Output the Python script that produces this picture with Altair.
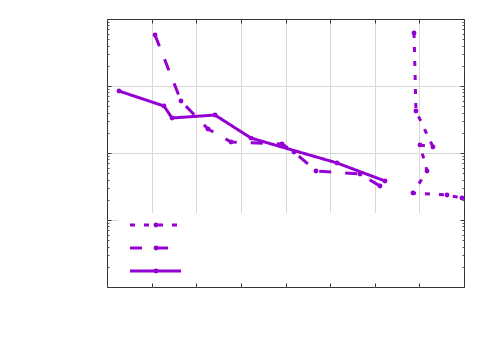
import altair as alt
import pandas as pd

# ---- data (x linear 0..8, y log 1..1e4) ----
s1_x = [6.880, 6.924, 7.305, 7.014, 7.171, 6.857, 7.619, 7.955]
s1_y = [6180, 423, 123, 132, 53.9, 25.3, 23.6, 21.3]

s2_x = [1.076, 1.658, 2.263, 2.779, 3.922, 4.190, 4.683, 5.669, 6.118]
s2_y = [5768, 597, 228, 146, 136, 103.5, 53.9, 48.6, 32.2]

s3_x = [0.269, 1.277, 1.457, 2.420, 3.227, 5.154, 6.230]
s3_y = [841, 503, 333, 369, 167, 71, 38.2]

series_names = ["dotted", "dashed", "solid"]
x_major = [1, 2, 3, 4, 5, 6, 7]
y_major = [10, 100, 1000]
y_major_ticks = [1, 10, 100, 1000, 10000]
y_minor = [k * 10 ** d for d in range(4) for k in range(2, 10)]

rows = []
for name, xs, ys in zip(series_names, [s1_x, s2_x, s3_x], [s1_y, s2_y, s3_y]):
    for i, (xv, yv) in enumerate(zip(xs, ys)):
        rows.append({"x": xv, "y": yv, "series": name, "order": i})
df = pd.DataFrame(rows)

COLOR = "#9400D3"
W, H = 357, 268
dash_range = [[5, 9], [12, 14], [1, 0]]

xs = alt.Scale(domain=[0, 8], nice=False, zero=False)
ys = alt.Scale(type="log", domain=[1, 10000], nice=False)


def ax(**kw):
    base = dict(title=None, labels=False, domain=False)
    base.update(kw)
    return alt.Axis(**base)


base = alt.Chart(df)

grid_layer = base.mark_point(opacity=0).encode(
    x=alt.X("x:Q", scale=xs, axis=ax(grid=True, ticks=False, values=x_major,
                                     gridColor="#d8d8d8", gridWidth=1, zindex=0)),
    y=alt.Y("y:Q", scale=ys, axis=ax(grid=True, ticks=False, values=y_major,
                                     gridColor="#d8d8d8", gridWidth=1, zindex=0)),
)

box = alt.Chart(pd.DataFrame({"a": [0]})).mark_rect(color="white").encode(
    x=alt.value(11), x2=alt.value(356.5), y=alt.value(194), y2=alt.value(267.5)
)

lines = base.mark_line(color=COLOR, strokeWidth=3, strokeJoin="round").encode(
    x=alt.X("x:Q", scale=xs, axis=ax(grid=False, orient="top", offset=-H,
                                     values=x_major, tickSize=4, tickColor="#333",
                                     zindex=1)),
    y=alt.Y("y:Q", scale=ys, axis=ax(grid=False, orient="right", offset=-W,
                                     values=y_major_ticks, tickSize=4, tickColor="#333",
                                     zindex=1)),
    strokeDash=alt.StrokeDash("series:N", scale=alt.Scale(domain=series_names, range=dash_range),
                              legend=None),
    detail="series:N",
    order="order:Q",
)

points = base.mark_circle(color=COLOR, size=24, opacity=1).encode(
    x=alt.X("x:Q", scale=xs, axis=ax(grid=False, orient="bottom", offset=-H,
                                     values=x_major, tickSize=4, tickColor="#333",
                                     zindex=1)),
    y=alt.Y("y:Q", scale=ys, axis=ax(grid=False, orient="left", offset=-W,
                                     values=y_major_ticks, tickSize=4, tickColor="#333",
                                     zindex=1)),
)

minor_l = base.mark_point(opacity=0).encode(
    x=alt.X("x:Q", scale=xs, axis=None),
    y=alt.Y("y:Q", scale=ys, axis=ax(grid=False, orient="right", offset=-W,
                                     values=y_minor, tickSize=2, tickColor="#555",
                                     zindex=1)),
)
minor_r = base.mark_point(opacity=0).encode(
    x=alt.X("x:Q", scale=xs, axis=None),
    y=alt.Y("y:Q", scale=ys, axis=ax(grid=False, orient="left", offset=-W,
                                     values=y_minor, tickSize=2, tickColor="#555",
                                     zindex=1)),
)

legend_layers = []
one = pd.DataFrame({"a": [0]})
for name, dash, ypix in zip(series_names, dash_range, [206, 229, 252]):
    legend_layers.append(
        alt.Chart(one).mark_rule(color=COLOR, strokeWidth=3, strokeDash=dash).encode(
            x=alt.value(23), x2=alt.value(74), y=alt.value(ypix)
        )
    )
    legend_layers.append(
        alt.Chart(one).mark_circle(color=COLOR, size=24, opacity=1).encode(
            x=alt.value(49), y=alt.value(ypix)
        )
    )

chart = alt.layer(grid_layer, box, lines, points, minor_l, minor_r, *legend_layers).resolve_axis(
    x="independent", y="independent"
).properties(
    width=W, height=H,
    autosize=alt.AutoSizeParams(type="none"),
    padding={"left": 99, "top": 11, "right": 20, "bottom": 40},
).configure_view(stroke="#333", strokeWidth=1)

chart.save("out.html", embed_options={"renderer": "svg", "actions": False})
